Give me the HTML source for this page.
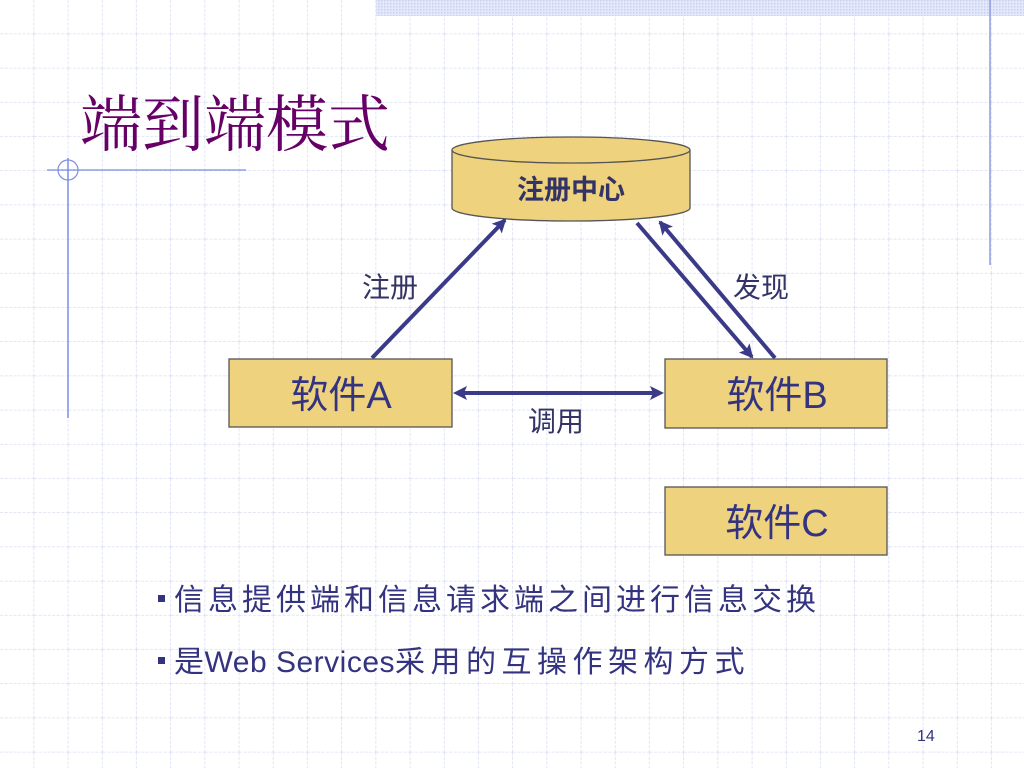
<!DOCTYPE html>
<html><head><meta charset="utf-8"><style>
body{margin:0;width:1024px;height:768px;overflow:hidden;background:#fff;}
svg{display:block}
text{font-family:"Liberation Sans","Noto Sans CJK SC",sans-serif;}
</style></head><body>
<svg width="1024" height="768" viewBox="0 0 1024 768" xmlns="http://www.w3.org/2000/svg">
<defs>
<pattern id="grid" x="0" y="0" width="34.2" height="34.2" patternUnits="userSpaceOnUse">
<path d="M34.2 0V34.2M0 34.2H34.2" stroke="#d2d7f2" stroke-width="1.3" stroke-dasharray="3 1.5" fill="none"/>
</pattern>
<pattern id="dots" width="3" height="3" patternUnits="userSpaceOnUse">
<rect width="3" height="3" fill="#e4e8fa"/><rect width="1.5" height="1.5" fill="#c8d0f0"/>
</pattern>
<marker id="ae" markerWidth="14" markerHeight="14" refX="12" refY="7" orient="auto" markerUnits="userSpaceOnUse" viewBox="0 0 14 14">
<path d="M14 7L0 0L3 7L0 14Z" fill="#3a3a88"/>
</marker>
</defs>
<rect width="1024" height="768" fill="url(#grid)"/>
<rect x="376" y="0" width="648" height="16" fill="url(#dots)"/>
<line x1="990" y1="0" x2="990" y2="265" stroke="#8c9ce0" stroke-width="1.5"/>
<line x1="47" y1="170" x2="246" y2="170" stroke="#7d8fe0" stroke-width="1.2"/>
<line x1="68" y1="158" x2="68" y2="418" stroke="#7d8fe0" stroke-width="1.5"/>
<circle cx="68" cy="170" r="10" fill="none" stroke="#7d8fe0" stroke-width="1.2"/>
<text x="80" y="146" font-size="62" fill="#660066" style="font-family:'Liberation Serif','Noto Serif CJK SC',serif">端到端模式</text>

<path d="M452 150 V208 A119 13 0 0 0 690 208 V150" fill="#eed27e" stroke="#555" stroke-width="1.3"/>
<ellipse cx="571" cy="150" rx="119" ry="13" fill="#eed27e" stroke="#555" stroke-width="1.3"/>
<text x="571" y="199" font-size="27" fill="#333366" text-anchor="middle" font-weight="bold">注册中心</text>

<line x1="372" y1="358" x2="505" y2="220" stroke="#3a3a88" stroke-width="4" marker-end="url(#ae)"/>
<line x1="637" y1="223" x2="752" y2="357" stroke="#3a3a88" stroke-width="4" marker-end="url(#ae)"/>
<line x1="775" y1="358" x2="660" y2="222" stroke="#3a3a88" stroke-width="4" marker-end="url(#ae)"/>
<line x1="462" y1="393" x2="655" y2="393" stroke="#3a3a88" stroke-width="4"/>
<path d="M453 393L467 386L464 393L467 400Z" fill="#3a3a88"/>
<path d="M664 393L650 386L653 393L650 400Z" fill="#3a3a88"/>

<text x="362" y="297" font-size="28" fill="#333366">注册</text>
<text x="733" y="297" font-size="28" fill="#333366">发现</text>
<text x="528" y="431" font-size="28" fill="#333366">调用</text>

<rect x="229" y="359" width="223" height="68" fill="#eed27e" stroke="#555" stroke-width="1.3"/>
<rect x="665" y="359" width="222" height="69" fill="#eed27e" stroke="#555" stroke-width="1.3"/>
<rect x="665" y="487" width="222" height="68" fill="#eed27e" stroke="#555" stroke-width="1.3"/>
<text x="341" y="408" font-size="38" fill="#333380" text-anchor="middle">软件A</text>
<text x="777" y="408" font-size="38" fill="#333380" text-anchor="middle">软件B</text>
<text x="777" y="536" font-size="38" fill="#333380" text-anchor="middle">软件C</text>

<rect x="158" y="595" width="7" height="7" fill="#333380"/>
<text x="174" y="610" font-size="30" fill="#333380" letter-spacing="4">信息提供端和信息请求端之间进行信息交换</text>
<rect x="158" y="657" width="7" height="7" fill="#333380"/>
<text x="174" y="672" font-size="30" fill="#333380" letter-spacing="0.5">是Web Services<tspan letter-spacing="5.5">采用的互操作架构方式</tspan></text>

<text x="917" y="741" font-size="16" fill="#333380">14</text>
</svg>
</body></html>
